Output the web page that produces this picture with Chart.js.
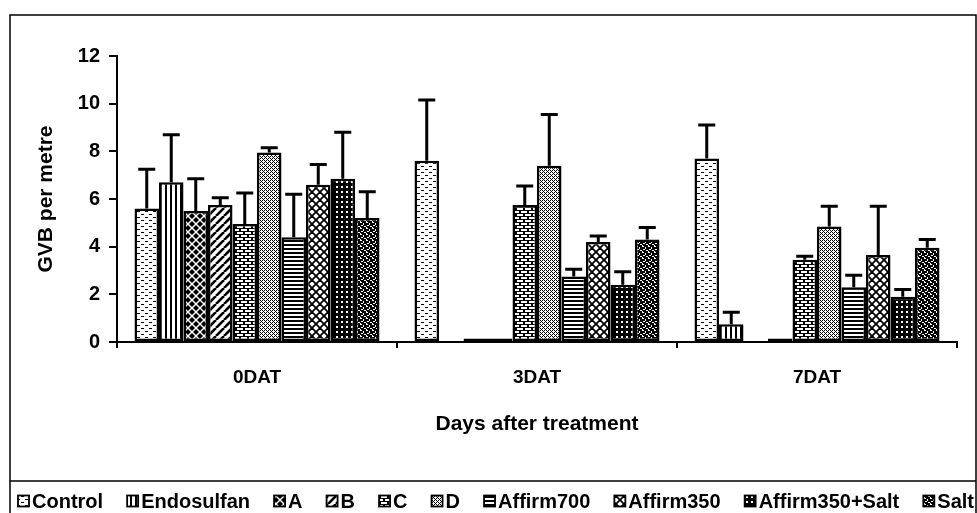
<!DOCTYPE html>
<html><head><meta charset="utf-8">
<script src="https://cdn.jsdelivr.net/npm/chart.js@4"></script>
<style>html,body{margin:0;padding:0;background:#fff}canvas{display:block}</style>
</head><body>
<canvas id="c" width="977" height="513"></canvas>
<script>
// ---- data ----
const categories = ['0DAT', '3DAT', '7DAT'];
const seriesNames = ['Control', 'Endosulfan', 'A', 'B', 'C', 'D', 'Affirm700', 'Affirm350', 'Affirm350+Salt', 'Salt'];
const yTicks = [0, 2, 4, 6, 8, 10, 12];
const control      = [5.6, 7.6, 7.7];
const endosulfan   = [6.7, 0.0, 0.75];
const seriesA      = [5.5, 0.15, 0.0];
const seriesB      = [5.75, 0.15, 0.15];
const seriesC      = [4.95, 5.75, 3.45];
const seriesD      = [7.95, 7.4, 4.85];
const affirm700    = [4.4, 2.75, 2.3];
const affirm350    = [6.6, 4.2, 3.65];
const affirm350S   = [6.85, 2.4, 1.9];
const salt         = [5.2, 4.3, 3.95];
// upper error-bar lengths
const controlErr    = [1.65, 2.55, 1.4];
const endosulfanErr = [2.0, 0, 0.5];
const seriesAErr    = [1.35, 0, 0];
const seriesBErr    = [0.3, 0, 0];
const seriesCErr    = [1.3, 0.8, 0.15];
const seriesDErr    = [0.2, 2.15, 0.85];
const affirm700Err  = [1.8, 0.3, 0.5];
const affirm350Err  = [0.85, 0.25, 2.05];
const affirm350SErr = [1.95, 0.55, 0.3];
const saltErr       = [1.1, 0.5, 0.35];

const values = [control, endosulfan, seriesA, seriesB, seriesC, seriesD, affirm700, affirm350, affirm350S, salt];
const errors = [controlErr, endosulfanErr, seriesAErr, seriesBErr, seriesCErr, seriesDErr, affirm700Err, affirm350Err, affirm350SErr, saltErr];

const FONT = "'Liberation Sans', Arial, Helvetica, sans-serif";
const canvas = document.getElementById('c');
const mainCtx = canvas.getContext('2d');

function makePattern(w, h, draw, bg) {
  const c = document.createElement('canvas');
  c.width = w; c.height = h;
  const g = c.getContext('2d');
  g.fillStyle = bg || '#fff'; g.fillRect(0, 0, w, h);
  g.fillStyle = '#000'; g.strokeStyle = '#000';
  draw(g, w, h);
  return mainCtx.createPattern(c, 'repeat');
}
const patterns = [
  // Control: sparse small dashes
  makePattern(8, 6, g => { g.fillRect(1, 1, 3, 1); g.fillRect(5, 4, 3, 1); }),
  // Endosulfan: vertical stripes
  makePattern(5, 2, g => { g.fillRect(0, 0, 2, 2); }),
  // A: black diamonds
  makePattern(8, 8, g => {
    const dia = (x, y, r) => { g.beginPath(); g.moveTo(x, y - r); g.lineTo(x + r, y); g.lineTo(x, y + r); g.lineTo(x - r, y); g.closePath(); g.fill(); };
    dia(4, 4, 3); dia(0, 0, 3); dia(8, 0, 3); dia(0, 8, 3); dia(8, 8, 3);
  }),
  // B: wide upward diagonal stripes
  makePattern(8, 8, g => {
    g.lineWidth = 2.6;
    for (let o = -8; o <= 8; o += 8) { g.beginPath(); g.moveTo(o, 8); g.lineTo(o + 8, 0); g.stroke(); }
  }),
  // C: bricks
  makePattern(8, 6, g => {
    g.fillStyle = '#fff';
    g.fillRect(1, 1, 6, 2); g.fillRect(5, 4, 3, 2); g.fillRect(0, 4, 3, 2);
  }, '#000'),
  // D: fine diagonal lattice
  makePattern(4, 4, g => {
    g.fillRect(0, 0, 1, 1); g.fillRect(2, 0, 1, 1); g.fillRect(1, 1, 1, 1);
    g.fillRect(0, 2, 1, 1); g.fillRect(3, 3, 1, 1); g.fillRect(2, 2, 1, 1);
  }),
  // Affirm700: horizontal stripes
  makePattern(2, 4, g => { g.fillRect(0, 0, 2, 2); }),
  // Affirm350: diagonal crosshatch
  makePattern(8, 8, g => {
    g.lineWidth = 1.8;
    for (let o = -8; o <= 8; o += 8) {
      g.beginPath(); g.moveTo(o, 8); g.lineTo(o + 8, 0); g.stroke();
      g.beginPath(); g.moveTo(o, 0); g.lineTo(o + 8, 8); g.stroke();
    }
  }),
  // Affirm350+Salt: black with white squares
  makePattern(5, 5, g => { g.fillStyle = '#fff'; g.fillRect(1, 1, 2, 2); }, '#000'),
  // Salt: dark speckled waves
  makePattern(6, 6, g => {
    g.fillStyle = '#fff';
    g.fillRect(0, 0, 2, 1); g.fillRect(3, 1, 1, 2); g.fillRect(1, 3, 2, 1); g.fillRect(4, 4, 2, 1); g.fillRect(0, 5, 1, 1);
  }, '#000')
];

const datasets = seriesNames.map((name, i) => ({
  label: name,
  data: values[i],
  errors: errors[i],
  backgroundColor: patterns[i],
  borderColor: '#000',
  borderWidth: 2.5,
  borderSkipped: false,
  categoryPercentage: 0.875,
  barPercentage: 1.0
}));

const framePlugin = {
  id: 'frame',
  beforeDraw(chart) {
    const ctx = chart.ctx;
    ctx.save(); ctx.fillStyle = '#fff'; ctx.fillRect(0, 0, chart.width, chart.height); ctx.restore();
  },
  afterDraw(chart) {
    const ctx = chart.ctx;
    ctx.save();
    ctx.strokeStyle = '#000'; ctx.lineWidth = 1.5;
    ctx.beginPath();
    ctx.moveTo(10, chart.height + 2); ctx.lineTo(10, 15); ctx.lineTo(976, 15); ctx.lineTo(976, chart.height + 2);
    ctx.moveTo(10, 481); ctx.lineTo(976, 481);
    ctx.stroke();
    ctx.restore();
  }
};

const errorBarPlugin = {
  id: 'errorBars',
  afterDatasetsDraw(chart) {
    const ctx = chart.ctx;
    const yScale = chart.scales.y;
    ctx.save();
    ctx.strokeStyle = '#000'; ctx.lineWidth = 3; ctx.lineCap = 'butt';
    chart.data.datasets.forEach((ds, di) => {
      const meta = chart.getDatasetMeta(di);
      meta.data.forEach((bar, j) => {
        const e = ds.errors[j];
        if (!e) return;
        const yTop = yScale.getPixelForValue(ds.data[j] + e);
        const half = 8.5;
        ctx.beginPath();
        ctx.moveTo(bar.x, bar.y); ctx.lineTo(bar.x, yTop);
        ctx.moveTo(bar.x - half, yTop); ctx.lineTo(bar.x + half, yTop);
        ctx.stroke();
      });
    });
    ctx.restore();
  }
};

const legendPlugin = {
  id: 'customLegend',
  afterDraw(chart) {
    const ctx = chart.ctx;
    ctx.save();
    ctx.font = 'bold 20px ' + FONT;
    const box = 11, gapText = 3, startX = 18, endX = 974, yMid = 502;
    const widths = chart.data.datasets.map(ds => ctx.measureText(ds.label).width);
    const content = widths.reduce((a, w) => a + w + box + gapText, 0);
    const gap = (endX - startX - content) / (widths.length - 1);
    let x = startX;
    ctx.textBaseline = 'middle'; ctx.fillStyle = '#000';
    chart.data.datasets.forEach((ds, i) => {
      ctx.fillStyle = ds.backgroundColor;
      ctx.fillRect(x, yMid - box / 2 - 1, box, box);
      ctx.strokeStyle = '#000'; ctx.lineWidth = 1.8;
      ctx.strokeRect(x, yMid - box / 2 - 1, box, box);
      ctx.fillStyle = '#000';
      ctx.fillText(ds.label, x + box + gapText, yMid);
      x += box + gapText + widths[i] + gap;
    });
    ctx.restore();
  }
};

new Chart(canvas, {
  type: 'bar',
  data: { labels: categories, datasets },
  options: {
    responsive: false,
    animation: false,
    devicePixelRatio: 1,
    layout: { padding: { left: 10, right: 20, top: 56, bottom: 32 } },
    plugins: { legend: { display: false }, tooltip: { enabled: false } },
    scales: {
      x: {
        ticks: { color: '#000', font: { family: FONT, size: 19, weight: 'bold' }, padding: 18 },
        grid: { drawOnChartArea: false, color: '#000', tickLength: 6, lineWidth: 2 },
        border: { color: '#000', width: 2 },
        title: { display: true, text: 'Days after treatment', color: '#000', font: { family: FONT, size: 21, weight: 'bold' }, padding: { top: 44, bottom: 44 } },
        afterFit(s) { s.height = 139; }
      },
      y: {
        min: 0, max: 12,
        afterBuildTicks(s) { s.ticks = yTicks.map(v => ({ value: v })); },
        ticks: { color: '#000', font: { family: FONT, size: 20, weight: 'bold' }, padding: 9 },
        grid: { drawOnChartArea: false, color: '#000', tickLength: 8, lineWidth: 2 },
        border: { color: '#000', width: 2 },
        title: { display: true, text: 'GVB per metre', color: '#000', font: { family: FONT, size: 21, weight: 'bold' }, padding: { top: 24, bottom: 24 } },
        afterFit(s) { s.width = 107; }
      }
    }
  },
  plugins: [framePlugin, errorBarPlugin, legendPlugin]
});
</script>
</body></html>
